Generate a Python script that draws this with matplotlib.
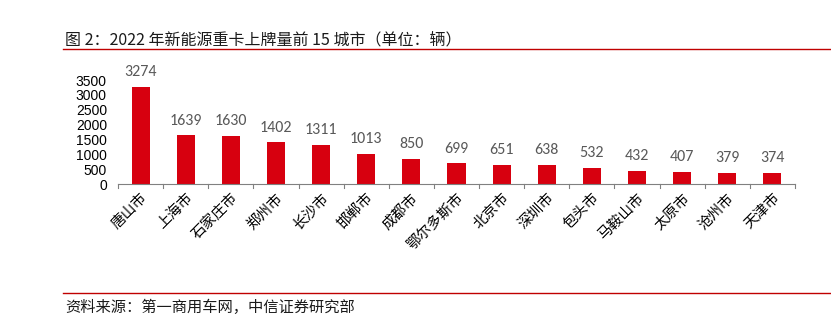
import matplotlib
matplotlib.use("Agg")
import matplotlib.pyplot as plt
from matplotlib.lines import Line2D

plt.rcParams['font.family'] = ['Noto Sans CJK SC', 'DejaVu Sans']

cities = ["唐山市", "上海市", "石家庄市", "郑州市", "长沙市", "邯郸市", "成都市",
          "鄂尔多斯市", "北京市", "深圳市", "包头市", "马鞍山市", "太原市", "沧州市", "天津市"]
counts = [3274, 1639, 1630, 1402, 1311, 1013, 850, 699, 651, 638, 532, 432, 407, 379, 374]
yticks = [0, 500, 1000, 1500, 2000, 2500, 3000, 3500]

title = "图 2：2022 年新能源重卡上牌量前 15 城市（单位：辆）"
source = "资料来源：第一商用车网，中信证券研究部"

W, H = 831, 331
fig = plt.figure(figsize=(W / 100, H / 100), dpi=100)
ax = fig.add_axes([118 / W, 1 - 184 / H, (795 - 118) / W, (184 - 80) / H])

red = "#D7000F"
x = list(range(len(cities)))
ax.bar(x, counts, width=0.4, color=red, zorder=2)
for xi, v in zip(x, counts):
    ax.text(xi, v + 260, str(v), ha="center", va="bottom", fontsize=11.5,
            color="#595959", family=["Carlito", "DejaVu Sans"])

ax.set_xlim(-0.5, len(cities) - 0.5)
ax.set_ylim(0, 3500)
ax.set_yticks(yticks)
ax.set_yticklabels([str(t) for t in yticks], fontsize=10,
                   family=["Liberation Sans", "DejaVu Sans"])
ax.tick_params(axis="y", length=0, pad=8)

ax.set_xticks(x)
ax.set_xticklabels(cities, rotation=45, ha="right", rotation_mode="anchor", fontsize=10.5)
ax.tick_params(axis="x", length=0, pad=5)
# category boundary ticks on the baseline
for b in range(len(cities) + 1):
    ax.plot([b - 0.5, b - 0.5], [0, -0.04], transform=ax.get_xaxis_transform(),
            color="#808080", lw=0.8, clip_on=False)

for s in ["top", "right", "left"]:
    ax.spines[s].set_visible(False)
ax.spines["bottom"].set_color("#808080")
ax.spines["bottom"].set_linewidth(0.8)

fig.text(65 / W, 1 - 40 / H, title, fontsize=11.5, color="#1a1a1a", va="center", ha="left")
fig.add_artist(Line2D([63 / W, 1.0], [1 - 49 / H, 1 - 49 / H], color="#C00000", lw=1.0))
fig.add_artist(Line2D([63 / W, 1.0], [1 - 293 / H, 1 - 293 / H], color="#C00000", lw=1.0))
fig.text(65 / W, 1 - 307 / H, source, fontsize=11, color="#1a1a1a", va="center", ha="left")

fig.savefig("out.png", dpi=100)
